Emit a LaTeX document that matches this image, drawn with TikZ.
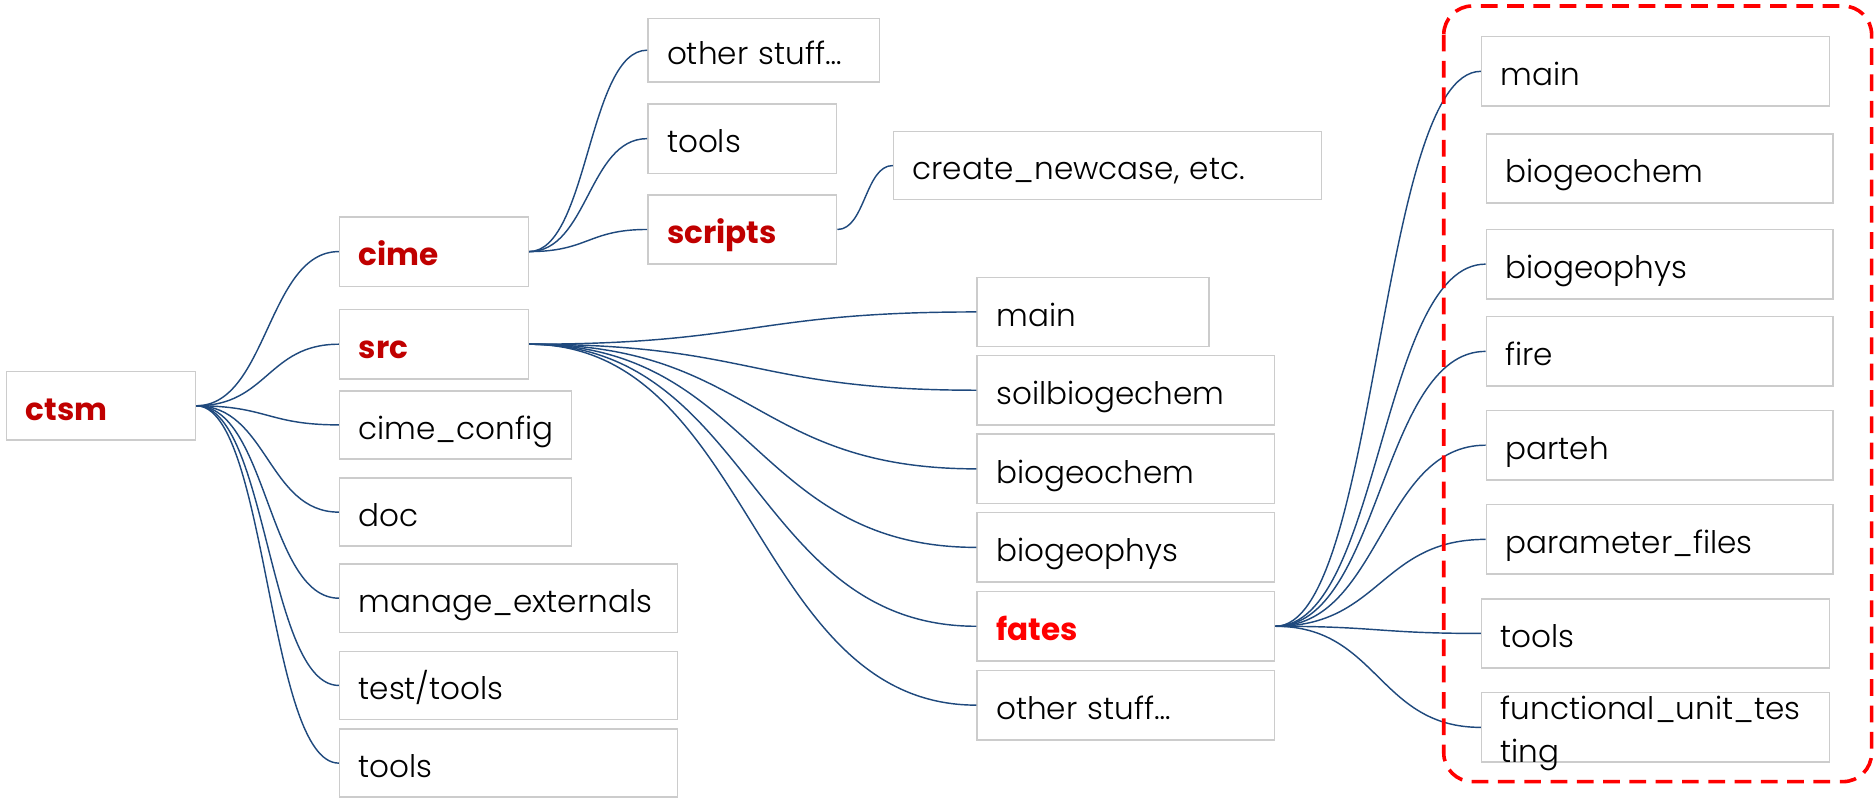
\documentclass[tikz,border=0pt]{standalone}
\usepackage{fontspec}
\setmainfont{Poppins}[UprightFont=* Light, BoldFont=* Bold]
\usetikzlibrary{calc}
\definecolor{linkblue}{RGB}{31,73,125}
\definecolor{boxgray}{RGB}{204,204,204}
\definecolor{darkred}{RGB}{192,0,0}
\tikzset{
  dir/.style={draw=boxgray, line width=1.2pt, anchor=west, inner xsep=16pt, inner ysep=0pt, minimum height=57pt, text height=30pt, text depth=6pt, align=left, font=\fontsize{26}{36}\selectfont},
  key/.style={text=darkred, font=\fontsize{26}{36}\selectfont\bfseries},
  link/.style={draw=linkblue, line width=1.2pt, to path={let \p1=(\tikztostart), \p2=(\tikztotarget) in .. controls ({(\x1+\x2)/2},\y1) and ({(\x1+\x2)/2},\y2) .. (\tikztotarget)}}
}
\begin{document}
\begin{tikzpicture}[x=1pt,y=-1pt]
\useasboundingbox (0,0) rectangle (1568,670);
\node[dir, key, text width=126pt] (ctsm) at (5,339.5) {ctsm};
\node[dir, key, text width=126pt, minimum height=58pt] (cime) at (283.5,210.5) {cime};
\node[dir, key, text width=126pt, minimum height=58pt] (src) at (283.5,288) {src};
\node[dir, text width=162pt] (cimeconfig) at (283.5,355.5) {cime\_config};
\node[dir, text width=162pt] (doc) at (283.5,428.5) {doc};
\node[dir, text width=251pt] (manageext) at (283.5,500.5) {manage\_externals};
\node[dir, text width=251pt] (testtools) at (283.5,573.5) {test/tools};
\node[dir, text width=251pt] (tools) at (283.5,638.5) {tools};
\draw[link] (ctsm.east) to (cime.west);
\draw[link] (ctsm.east) to (src.west);
\draw[link] (ctsm.east) to (cimeconfig.west);
\draw[link] (ctsm.east) to (doc.west);
\draw[link] (ctsm.east) to (manageext.west);
\draw[link] (ctsm.east) to (testtools.west);
\draw[link] (ctsm.east) to (tools.west);
\node[dir, text width=162pt, minimum height=53pt] (cimeother) at (541.5,42) {other stuff…};
\node[dir, text width=126pt, minimum height=58pt] (cimetools) at (541.5,116) {tools};
\node[dir, key, text width=126pt, minimum height=58pt] (scripts) at (541.5,192) {scripts};
\node[dir, text width=326pt] (newcase) at (747,138.5) {create\_newcase, etc.};
\draw[link] (cime.east) to (cimeother.west);
\draw[link] (cime.east) to (cimetools.west);
\draw[link] (cime.east) to (scripts.west);
\draw[link] (scripts.east) to (newcase.west);
\node[dir, text width=162pt, minimum height=58pt] (srcmain) at (817,261) {main};
\node[dir, text width=217pt, minimum height=58pt] (soil) at (817,326.5) {soilbiogechem};
\node[dir, text width=217pt, minimum height=58pt] (bgc) at (817,392.3) {biogeochem};
\node[dir, text width=217pt, minimum height=58pt] (bgp) at (817,458) {biogeophys};
\node[dir, key, text=red, text width=217pt, minimum height=58pt] (fates) at (817,524) {fates};
\node[dir, text width=217pt, minimum height=58pt] (srcother) at (817,590) {other stuff…};
\draw[link] (src.east) to (srcmain.west);
\draw[link] (src.east) to (soil.west);
\draw[link] (src.east) to (bgc.west);
\draw[link] (src.east) to (bgp.west);
\draw[link] (src.east) to (fates.west);
\draw[link] (src.east) to (srcother.west);
\node[dir, text width=259pt, minimum height=58pt] (ftmain) at (1239,59.7) {main};
\node[dir, text width=258pt, minimum height=58pt] (ftbgc) at (1243,141) {biogeochem};
\node[dir, text width=258pt, minimum height=58pt] (ftbgp) at (1243,221) {biogeophys};
\node[dir, text width=258pt, minimum height=58pt] (ftfire) at (1243,294) {fire};
\node[dir, text width=258pt, minimum height=58pt] (ftparteh) at (1243,372.5) {parteh};
\node[dir, text width=258pt, minimum height=58pt] (ftparam) at (1243,451.3) {parameter\_files};
\node[dir, text width=259pt, minimum height=58pt] (fttools) at (1239,530) {tools};
\node[dir, text width=259pt, minimum height=58pt, text height=8pt, text depth=21pt] (ftfut) at (1239,608.6) {functional\_unit\_tes\\ting};
\draw[link] (fates.east) to (ftmain.west);
\draw[link] (fates.east) to (ftbgp.west);
\draw[link] (fates.east) to (ftfire.west);
\draw[link] (fates.east) to (ftparteh.west);
\draw[link] (fates.east) to (ftparam.west);
\draw[link] (fates.east) to (fttools.west);
\draw[link] (fates.east) to (ftfut.west);
\draw[red, line width=3pt, dash pattern=on 14pt off 8pt, rounded corners=24pt] (1208,5) rectangle (1566,654);
\end{tikzpicture}
\end{document}
